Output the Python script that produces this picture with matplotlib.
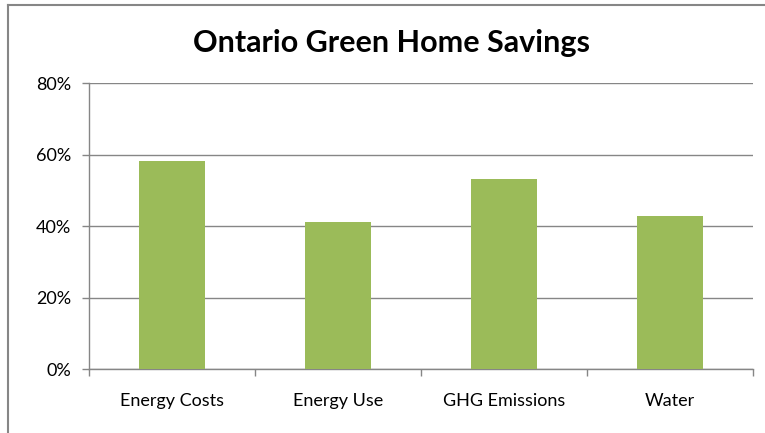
import matplotlib
matplotlib.use("Agg")
import matplotlib.pyplot as plt
from matplotlib.lines import Line2D
from matplotlib.ticker import FixedLocator, PercentFormatter

categories = ["Energy Costs", "Energy Use", "GHG Emissions", "Water"]
savings = [58.3, 41.3, 53.3, 42.9]
y_ticks = [0, 20, 40, 60, 80]

bar_color = "#9BBB59"
axis_gray = "#868686"

plt.rcParams["font.family"] = ["Lato", "DejaVu Sans"]

fig = plt.figure(figsize=(7.65, 4.33), dpi=100)
ax = fig.add_axes([0.1163, 0.147, 0.868, 0.6606])

x = range(len(categories))
ax.bar(x, savings, width=0.4, color=bar_color, zorder=3)

ax.set_xlim(-0.5, len(categories) - 0.5)
ax.set_ylim(0, 80)
ax.set_yticks(y_ticks)
ax.yaxis.set_major_formatter(PercentFormatter(decimals=0))
ax.grid(axis="y", color=axis_gray, linewidth=1, zorder=0)

ax.set_xticks(list(x))
ax.set_xticklabels(categories)
ax.xaxis.set_minor_locator(FixedLocator([i - 0.5 for i in range(len(categories) + 1)]))
ax.tick_params(axis="x", which="major", length=0, pad=17, labelsize=13)
ax.tick_params(axis="x", which="minor", length=5, color=axis_gray, width=1)
ax.tick_params(axis="y", length=5, color=axis_gray, width=1, pad=8, labelsize=13)

for side in ["top", "right"]:
    ax.spines[side].set_visible(False)
for side in ["left", "bottom"]:
    ax.spines[side].set_color(axis_gray)
    ax.spines[side].set_linewidth(1)

fig.text(0.512, 0.90, "Ontario Green Home Savings", ha="center", va="center",
         fontsize=22, fontweight="bold")

# chart frame, clipped on right and bottom
fig.add_artist(Line2D([0.011, 0.011], [0.0, 0.988], color=axis_gray, linewidth=1.5))
fig.add_artist(Line2D([0.011, 1.0], [0.988, 0.988], color=axis_gray, linewidth=1.5))

fig.savefig("out.png", dpi=100)
